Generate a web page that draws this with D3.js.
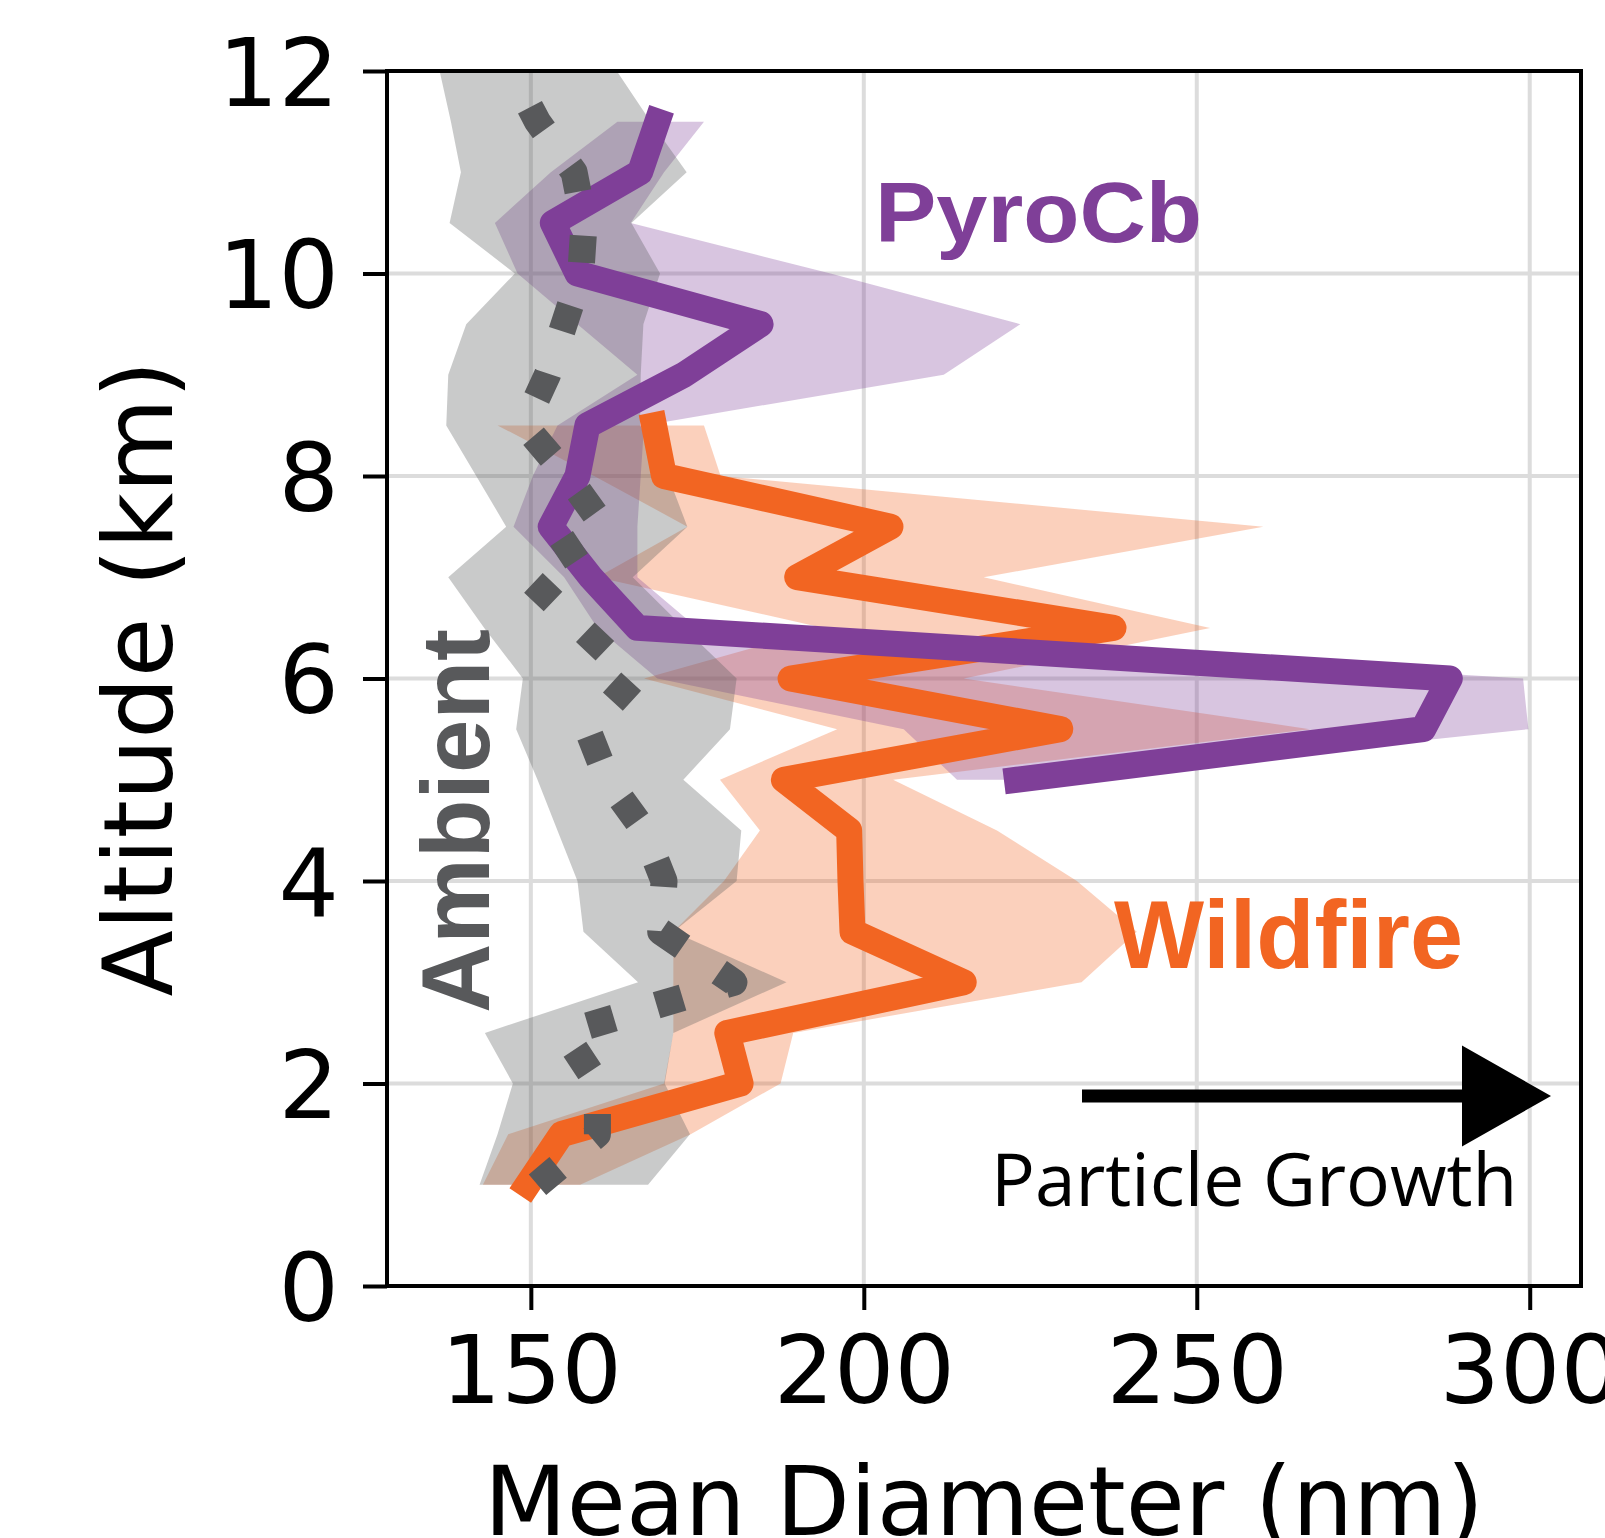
<!DOCTYPE html>
<html>
<head>
<meta charset="utf-8">
<script src="https://cdn.jsdelivr.net/npm/d3@7"></script>
<style>
  html, body { margin: 0; padding: 0; background: #fff; }
  svg { display: block; }
</style>
</head>
<body>
<div id="chart"></div>
<script>
// altitude levels (km)
var ambientAlt = [1.0, 1.5, 2.0, 2.5, 3.0, 3.5, 4.0, 4.5, 5.0, 5.5, 6.0, 6.5, 7.0, 7.5, 8.0, 8.5, 9.0, 9.5, 10.0, 10.5, 11.0, 11.5, 12.0];
var wildfireAlt = [1.0, 1.5, 2.0, 2.5, 3.0, 3.5, 4.0, 4.5, 5.0, 5.5, 6.0, 6.5, 7.0, 7.5, 8.0, 8.5];
var pyrocbAlt = [5.0, 5.5, 6.0, 6.5, 7.0, 7.5, 8.0, 8.5, 9.0, 9.5, 10.0, 10.5, 11.0, 11.5];

// mean diameter (nm) and shaded range
var ambientMean = [151, 160, 160, 155, 180.5, 169.5, 170, 167, 161.5, 158.5, 165.5, 157.5, 149.5, 161, 155.5, 149, 152.5, 155, 157.5, 158, 156.5, 151, 147];
var ambientLow = [142.3, 145, 147.3, 143.1, 166.1, 157.9, 157, 154, 151, 147.8, 148.8, 143, 137.6, 146.3, 141.8, 137.3, 137.6, 140.3, 147.6, 137.8, 139.5, 138, 136.3];
var ambientHigh = [167.6, 173.9, 170.1, 171.4, 188.4, 171.4, 180.9, 181.6, 172.9, 179.9, 180.9, 173, 165.3, 173.5, 170.6, 166.4, 166.5, 166.9, 169.4, 165.1, 173.4, 168, 162.9];

var wildfireMean = [149.5, 154.6, 181.5, 179.5, 215, 198.3, 198, 197.8, 188, 229.5, 189, 237.5, 190, 204, 170, 168.5];
var wildfireLow = [142.8, 146.6, 170, 171.4, 171.4, 171.4, 179, 184.4, 178.4, 196, 167, 194, 160, 173.5, 159.5, 145];
var wildfireHigh = [157.4, 174, 187.5, 189.4, 232.7, 241, 232, 220, 204.4, 267, 215, 252, 218, 260, 178.5, 176];

var pyrocbMean = [223, 284, 288, 166, 159, 153, 157, 158.5, 173, 184.5, 157, 153.3, 166.4, 169];
var pyrocbLow = [214, 206, 169, 160, 155, 147.4, 150.3, 154, 166, 157, 148, 144.6, 153, 163];
var pyrocbHigh = [228, 299.8, 299, 175, 166, 166, 166.5, 167, 212, 223.5, 195, 165, 170, 176];

var xTicks = [150, 200, 250, 300];
var yTicks = [0, 2, 4, 6, 8, 10, 12];

(function() {
	var width = 1605,
		height = 1538,
		margin = { left: 387, right: 24, top: 71, bottom: 252 },
		innerWidth = width - margin.left - margin.right,
		innerHeight = height - margin.top - margin.bottom;

	var colors = {
		ambient: "#58595b",
		wildfire: "#f26522",
		pyrocb: "#7f3f98"
	};
	var lineWidth = 26,
		dotWidth = 27;

	var svg = d3.select("#chart").append("svg")
		.attr("width", width)
		.attr("height", height);

	//比例尺
	var x = d3.scaleLinear()
		.domain([128.4, 307.7])
		.range([margin.left, margin.left + innerWidth]);
	var y = d3.scaleLinear()
		.domain([0, 12])
		.range([margin.top + innerHeight, margin.top]);

	svg.append("defs").append("clipPath")
		.attr("id", "plotClip")
		.append("rect")
		.attr("x", margin.left)
		.attr("y", margin.top)
		.attr("width", innerWidth)
		.attr("height", innerHeight);

	//网格
	var grid = svg.append("g").attr("class", "grid");
	grid.selectAll(".vgrid")
		.data(xTicks)
		.enter()
		.append("line")
		.attr("x1", function(d) { return x(d); })
		.attr("x2", function(d) { return x(d); })
		.attr("y1", margin.top)
		.attr("y2", margin.top + innerHeight)
		.attr("stroke", "#dcdcdc")
		.attr("stroke-width", 4);
	grid.selectAll(".hgrid")
		.data(yTicks)
		.enter()
		.append("line")
		.attr("x1", margin.left)
		.attr("x2", margin.left + innerWidth)
		.attr("y1", function(d) { return y(d); })
		.attr("y2", function(d) { return y(d); })
		.attr("stroke", "#dcdcdc")
		.attr("stroke-width", 4);

	var plot = svg.append("g").attr("clip-path", "url(#plotClip)");

	function rows(alt, mean, low, high) {
		return alt.map(function(a, i) {
			return { alt: a, mean: mean[i], low: low[i], high: high[i] };
		});
	}
	var series = {
		ambient: rows(ambientAlt, ambientMean, ambientLow, ambientHigh),
		wildfire: rows(wildfireAlt, wildfireMean, wildfireLow, wildfireHigh),
		pyrocb: rows(pyrocbAlt, pyrocbMean, pyrocbLow, pyrocbHigh)
	};

	var area = d3.area()
		.y(function(d) { return y(d.alt); })
		.x0(function(d) { return x(d.low); })
		.x1(function(d) { return x(d.high); });

	var line = d3.line()
		.x(function(d) { return x(d.mean); })
		.y(function(d) { return y(d.alt); });

	//阴影范围
	var fillOpacity = { wildfire: 0.3, pyrocb: 0.3, ambient: 0.32 };
	["wildfire", "pyrocb", "ambient"].forEach(function(k) {
		plot.append("path")
			.datum(series[k])
			.attr("d", area)
			.attr("fill", colors[k])
			.attr("fill-opacity", fillOpacity[k]);
	});

	//均值线
	["wildfire", "pyrocb"].forEach(function(k) {
		plot.append("path")
			.datum(series[k])
			.attr("d", line)
			.attr("fill", "none")
			.attr("stroke", colors[k])
			.attr("stroke-width", lineWidth)
			.attr("stroke-linejoin", "round")
			.attr("stroke-linecap", "square");
	});
	plot.append("path")
		.datum(series.ambient)
		.attr("d", line)
		.attr("fill", "none")
		.attr("stroke", colors.ambient)
		.attr("stroke-width", dotWidth)
		.attr("stroke-linejoin", "round")
		.attr("stroke-linecap", "butt")
		.attr("stroke-dasharray", dotWidth + " " + (dotWidth * 1.65));

	//坐标轴
	var xAxis = d3.axisBottom(x).tickValues(xTicks).tickSize(24).tickPadding(26);
	var yAxis = d3.axisLeft(y).tickValues(yTicks).tickSize(24).tickPadding(24);

	var gx = svg.append("g")
		.attr("transform", "translate(0," + (margin.top + innerHeight) + ")")
		.call(xAxis);
	var gy = svg.append("g")
		.attr("transform", "translate(" + margin.left + ",0)")
		.call(yAxis);
	[gx, gy].forEach(function(g) {
		g.select(".domain").remove();
		g.selectAll(".tick line").attr("stroke", "#000").attr("stroke-width", 4);
		g.selectAll(".tick text")
			.attr("font-family", "DejaVu Sans")
			.attr("font-size", 95)
			.attr("fill", "#000");
	});
	gy.selectAll(".tick text").attr("dy", "0.36em");

	svg.append("rect")
		.attr("x", margin.left)
		.attr("y", margin.top)
		.attr("width", innerWidth)
		.attr("height", innerHeight)
		.attr("fill", "none")
		.attr("stroke", "#000")
		.attr("stroke-width", 4);

	//轴标题
	svg.append("text")
		.attr("x", margin.left + innerWidth / 2)
		.attr("y", 1535)
		.attr("text-anchor", "middle")
		.attr("font-family", "DejaVu Sans")
		.attr("font-size", 96)
		.text("Mean Diameter (nm)");
	svg.append("text")
		.attr("transform", "translate(172," + (margin.top + innerHeight / 2) + ") rotate(-90)")
		.attr("text-anchor", "middle")
		.attr("font-family", "DejaVu Sans")
		.attr("font-size", 97)
		.text("Altitude (km)");

	//标注
	svg.append("text")
		.attr("x", 875)
		.attr("y", 242)
		.attr("font-family", "Liberation Sans")
		.attr("font-weight", "bold")
		.attr("font-size", 85)
		.attr("textLength", 327)
		.attr("lengthAdjust", "spacingAndGlyphs")
		.attr("fill", colors.pyrocb)
		.text("PyroCb");
	svg.append("text")
		.attr("x", 1114)
		.attr("y", 968)
		.attr("font-family", "Liberation Sans")
		.attr("font-weight", "bold")
		.attr("font-size", 96)
		.attr("textLength", 349)
		.attr("lengthAdjust", "spacingAndGlyphs")
		.attr("fill", colors.wildfire)
		.text("Wildfire");
	svg.append("text")
		.attr("transform", "translate(489,821) rotate(-90)")
		.attr("text-anchor", "middle")
		.attr("font-family", "Liberation Sans")
		.attr("font-weight", "bold")
		.attr("font-size", 96)
		.attr("fill", colors.ambient)
		.text("Ambient");

	//粒子增长箭头
	var ax0 = 1082, ax1 = 1551, ay = 1096,
		shaft = 6.4, headH = 50.5, headL = 89;
	svg.append("path")
		.attr("d", "M" + ax0 + "," + (ay - shaft) +
			"L" + (ax1 - headL) + "," + (ay - shaft) +
			"L" + (ax1 - headL) + "," + (ay - headH) +
			"L" + ax1 + "," + ay +
			"L" + (ax1 - headL) + "," + (ay + headH) +
			"L" + (ax1 - headL) + "," + (ay + shaft) +
			"L" + ax0 + "," + (ay + shaft) + "Z")
		.attr("fill", "#000");
	svg.append("text")
		.attr("x", 991)
		.attr("y", 1206)
		.attr("font-family", "Open Sans")
		.attr("font-size", 73)
		.attr("fill", "#000")
		.text("Particle Growth");
})();
</script>
</body>
</html>
